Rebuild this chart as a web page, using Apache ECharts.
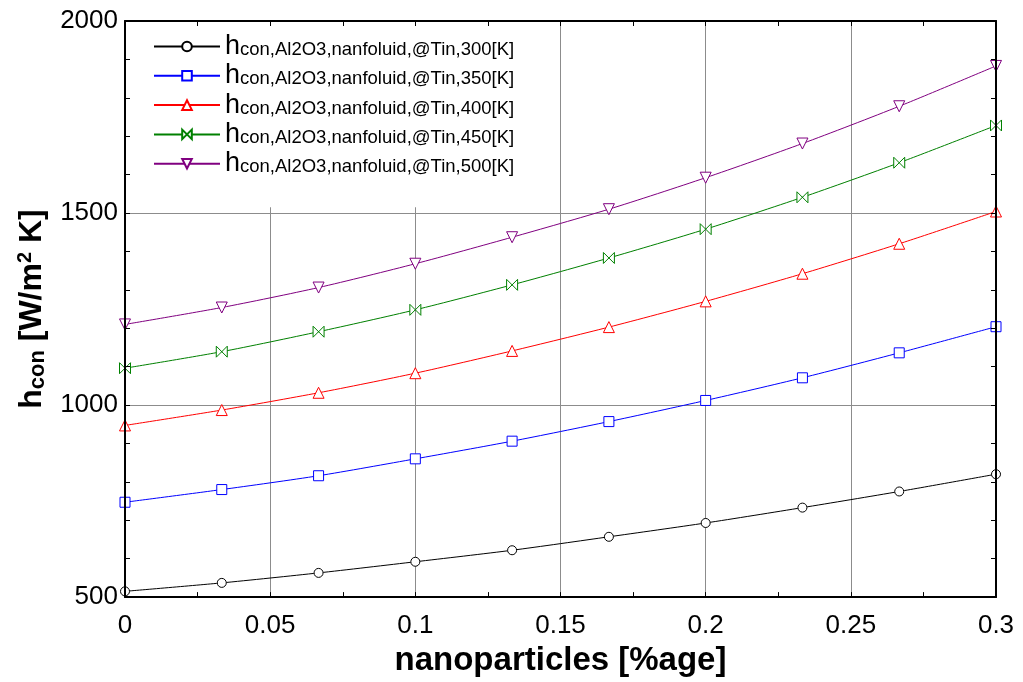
<!DOCTYPE html>
<html>
<head>
<meta charset="utf-8">
<script src="https://cdn.jsdelivr.net/npm/echarts@6/dist/echarts.min.js"></script>
<style>
  html, body { margin: 0; padding: 0; background: #fff; }
  #chart { width: 1023px; height: 682px; }
</style>
</head>
<body>
<div id="chart"></div>
<script>
// Nanoparticle volume fraction [%]
const fractions = [0, 0.03333, 0.06667, 0.1, 0.13333, 0.16667, 0.2, 0.23333, 0.26667, 0.3];

// Convective heat transfer coefficient [W/m^2 K] for each inlet temperature
const h300 = [515, 537, 563, 592, 622, 657, 693, 733, 775, 820];
const h350 = [747, 780, 816, 860, 906, 957, 1012, 1071, 1136, 1204];
const h400 = [947, 987, 1032, 1083, 1141, 1203, 1270, 1342, 1420, 1504];
const h450 = [1096, 1139, 1191, 1248, 1313, 1383, 1458, 1541, 1631, 1728];
const h500 = [1210, 1254, 1306, 1368, 1437, 1510, 1592, 1681, 1778, 1883];

// Legend subscripts (the leading "h" is drawn separately)
const seriesNames = [
  'con,Al2O3,nanfoluid,@Tin,300[K]',
  'con,Al2O3,nanfoluid,@Tin,350[K]',
  'con,Al2O3,nanfoluid,@Tin,400[K]',
  'con,Al2O3,nanfoluid,@Tin,450[K]',
  'con,Al2O3,nanfoluid,@Tin,500[K]'
];

const xTicks = { min: 0, max: 0.3, interval: 0.05 };
const yTicks = { min: 500, max: 2000, interval: 500 };

const FONT = '"Liberation Sans", Arial, Helvetica, sans-serif';
const bowtie = 'path://M0,0 L10,10 L10,0 L0,10 Z';

const styles = [
  { color: '#000000', symbol: 'circle', size: 9, rotate: 0 },
  { color: '#0000ff', symbol: 'rect', size: 10, rotate: 0 },
  { color: '#ff0000', symbol: 'triangle', size: 11, rotate: 0 },
  { color: '#008000', symbol: bowtie, size: 11, rotate: 0 },
  { color: '#800080', symbol: 'triangle', size: 11, rotate: 180 }
];
const values = [h300, h350, h400, h450, h500];

const series = values.map((vals, i) => ({
  name: seriesNames[i],
  type: 'line',
  xAxisIndex: 0,
  yAxisIndex: 0,
  data: fractions.map((x, k) => [x, vals[k]]),
  smooth: 0.25,
  symbol: styles[i].symbol,
  symbolSize: styles[i].size,
  symbolRotate: styles[i].rotate,
  symbolKeepAspect: true,
  showAllSymbol: true,
  lineStyle: { color: styles[i].color, width: 1 },
  itemStyle: { color: '#ffffff', borderColor: styles[i].color, borderWidth: 1 },
  emphasis: { disabled: true },
  z: 3
}));

const frameLine = { show: true, onZero: false, lineStyle: { color: '#000', width: 2 } };
const innerTick = { show: true, inside: true, length: 5, lineStyle: { color: '#000', width: 1 } };
const gridLine = { show: true, lineStyle: { color: '#8c8c8c', width: 1 } };

const chart = echarts.init(document.getElementById('chart'), null, { renderer: 'canvas' });

chart.setOption({
  animation: false,
  backgroundColor: '#ffffff',
  grid: { left: 125, top: 21, width: 871, height: 579, containLabel: false },
  legend: {
    orient: 'vertical',
    left: 127,
    top: 23,
    padding: [10, 40, 30, 26],
    backgroundColor: '#ffffff',
    itemWidth: 66,
    itemHeight: 12,
    itemGap: 2.3,
    selectedMode: false,
    z: 4,
    formatter: name => '{h|h}{s|' + name + '}',
    textStyle: {
      color: '#000',
      fontFamily: FONT,
      rich: {
        h: { fontSize: 27, lineHeight: 26, fontFamily: FONT, color: '#000' },
        s: { fontSize: 18.5, lineHeight: 12, verticalAlign: 'bottom', fontFamily: FONT, color: '#000' }
      }
    }
  },
  xAxis: [
    {
      type: 'value', position: 'bottom', ...xTicks, z: 10,
      axisLine: frameLine, axisTick: innerTick,
      minorTick: { show: true, splitNumber: 2, length: 5, lineStyle: { color: '#000', width: 1 } },
      splitLine: { show: false },
      axisLabel: { fontFamily: FONT, fontSize: 26, color: '#000', margin: 16, formatter: v => String(+v.toFixed(3)) },
      name: 'nanoparticles [%age]',
      nameLocation: 'middle',
      nameGap: 38,
      nameTextStyle: { fontFamily: FONT, fontSize: 33, fontWeight: 'bold', color: '#000' }
    },
    {
      type: 'value', position: 'top', ...xTicks, z: 10,
      axisLine: frameLine, axisTick: innerTick,
      minorTick: { show: true, splitNumber: 2, length: 5, lineStyle: { color: '#000', width: 1 } },
      splitLine: { show: false }, axisLabel: { show: false }
    },
    {
      type: 'value', position: 'bottom', ...xTicks, z: 0,
      axisLine: { show: false }, axisTick: { show: false }, axisLabel: { show: false },
      splitLine: gridLine
    }
  ],
  yAxis: [
    {
      type: 'value', position: 'left', ...yTicks, z: 10,
      axisLine: frameLine, axisTick: innerTick,
      minorTick: { show: true, splitNumber: 5, length: 5, lineStyle: { color: '#000', width: 1 } },
      splitLine: { show: false },
      axisLabel: { fontFamily: FONT, fontSize: 26, color: '#000', margin: 7, formatter: v => String(v) },
      name: '{b|h}{sub|con}{b| [W/m}{sup|2}{b| K]}',
      nameLocation: 'middle',
      nameRotate: 90,
      nameGap: 66,
      nameTextStyle: {
        fontFamily: FONT, fontWeight: 'bold', color: '#000',
        rich: {
          b: { fontSize: 32, lineHeight: 34, fontWeight: 'bold', fontFamily: FONT, color: '#000' },
          sub: { fontSize: 22, lineHeight: 14, verticalAlign: 'bottom', fontWeight: 'bold', fontFamily: FONT, color: '#000' },
          sup: { fontSize: 20, lineHeight: 30, verticalAlign: 'top', fontWeight: 'bold', fontFamily: FONT, color: '#000' }
        }
      }
    },
    {
      type: 'value', position: 'right', ...yTicks, z: 10,
      axisLine: frameLine, axisTick: innerTick,
      minorTick: { show: true, splitNumber: 5, length: 5, lineStyle: { color: '#000', width: 1 } },
      splitLine: { show: false }, axisLabel: { show: false }
    },
    {
      type: 'value', position: 'left', ...yTicks, z: 0,
      axisLine: { show: false }, axisTick: { show: false }, axisLabel: { show: false },
      splitLine: gridLine
    }
  ],
  series: series
});
</script>
</body>
</html>
